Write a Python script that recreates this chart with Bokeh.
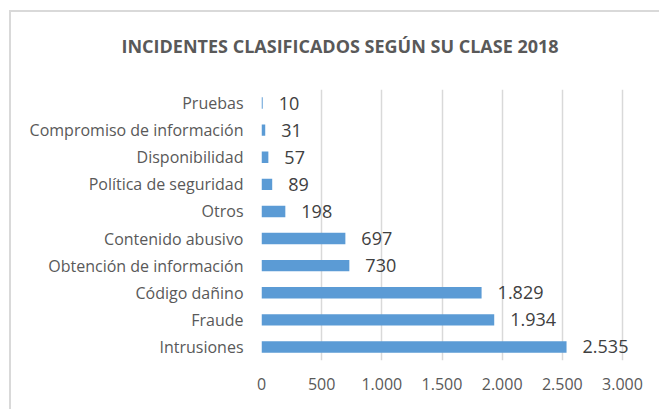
from bokeh.plotting import figure
from bokeh.models import ColumnDataSource, FactorRange, Range1d, FixedTicker, Title
from bokeh.core.properties import value
from bokeh.embed import file_html
from bokeh.resources import INLINE

# data (bottom to top)
categories = ["Intrusiones", "Fraude", "Código dañino", "Obtención de información",
              "Contenido abusivo", "Otros", "Política de seguridad", "Disponibilidad",
              "Compromiso de información", "Pruebas"]
counts = [2535, 1934, 1829, 730, 697, 198, 89, 57, 31, 10]
x_ticks = [0, 500, 1000, 1500, 2000, 2500, 3000]
title_text = "INCIDENTES CLASIFICADOS SEGÚN SU CLASE 2018"

def es_fmt(v):
    return f"{v:,}".replace(",", ".")

labels = [es_fmt(v) for v in counts]
src = ColumnDataSource(dict(cat=categories, val=counts, lab=labels))

FONT = "Open Sans"
OX, OY = 11, 12            # canvas offset inside the chart-area border
W, H = 650, 399
fl, fr, ft = 261 - OX, 12, 89 - OY
fb = H - (360 - OY)
frame_w = W - fl - fr
x_end = 3000 * frame_w / 361.0

p = figure(width=W, height=H, output_backend="svg", toolbar_location=None,
           y_range=FactorRange(factors=categories, range_padding=0),
           x_range=Range1d(0, x_end),
           min_border_left=fl, min_border_right=fr, min_border_top=ft, min_border_bottom=fb)
p.margin = (OY, 0, 0, OX)
p.styles = {"box-shadow": "-2px -2px 0 0 #D9D9D9"}
p.outline_line_color = None
p.background_fill_color = "white"
p.border_fill_color = "white"

p.hbar(y="cat", right="val", height=0.42, source=src, color="#5B9BD5", line_color=None)
p.text(x="val", y="cat", text="lab", source=src, x_offset=16,
       text_align="left", text_baseline="middle", text_font=value(FONT),
       text_font_size="18px", text_color="#404040")

p.xaxis.ticker = FixedTicker(ticks=x_ticks)
p.xaxis.major_label_overrides = {t: es_fmt(t) for t in x_ticks}
for ax in (p.xaxis, p.yaxis):
    ax.axis_line_color = None
    ax.major_tick_line_color = None
    ax.minor_tick_line_color = None
    ax.major_tick_out = 0
    ax.major_tick_in = 0
    ax.major_label_text_font = FONT
    ax.major_label_text_color = "#595959"
p.xaxis.major_label_text_font_size = "16px"
p.yaxis.major_label_text_font_size = "16px"
p.xaxis.major_label_standoff = 17
p.yaxis.major_label_standoff = 18
p.xgrid.grid_line_color = "#D9D9D9"
p.xgrid.grid_line_width = 1.5
p.ygrid.grid_line_color = None

spacer = Title(text=" ", text_font=FONT, text_font_size="10px", standoff=10)
p.add_layout(spacer, "above")
p.add_layout(Title(text=title_text, align="left", offset=121 - 261,
                   text_font=FONT, text_font_style="bold", text_font_size="18px",
                   text_color="#595959", vertical_align="middle"), "above")

open("out.html", "w").write(file_html(p, INLINE))
